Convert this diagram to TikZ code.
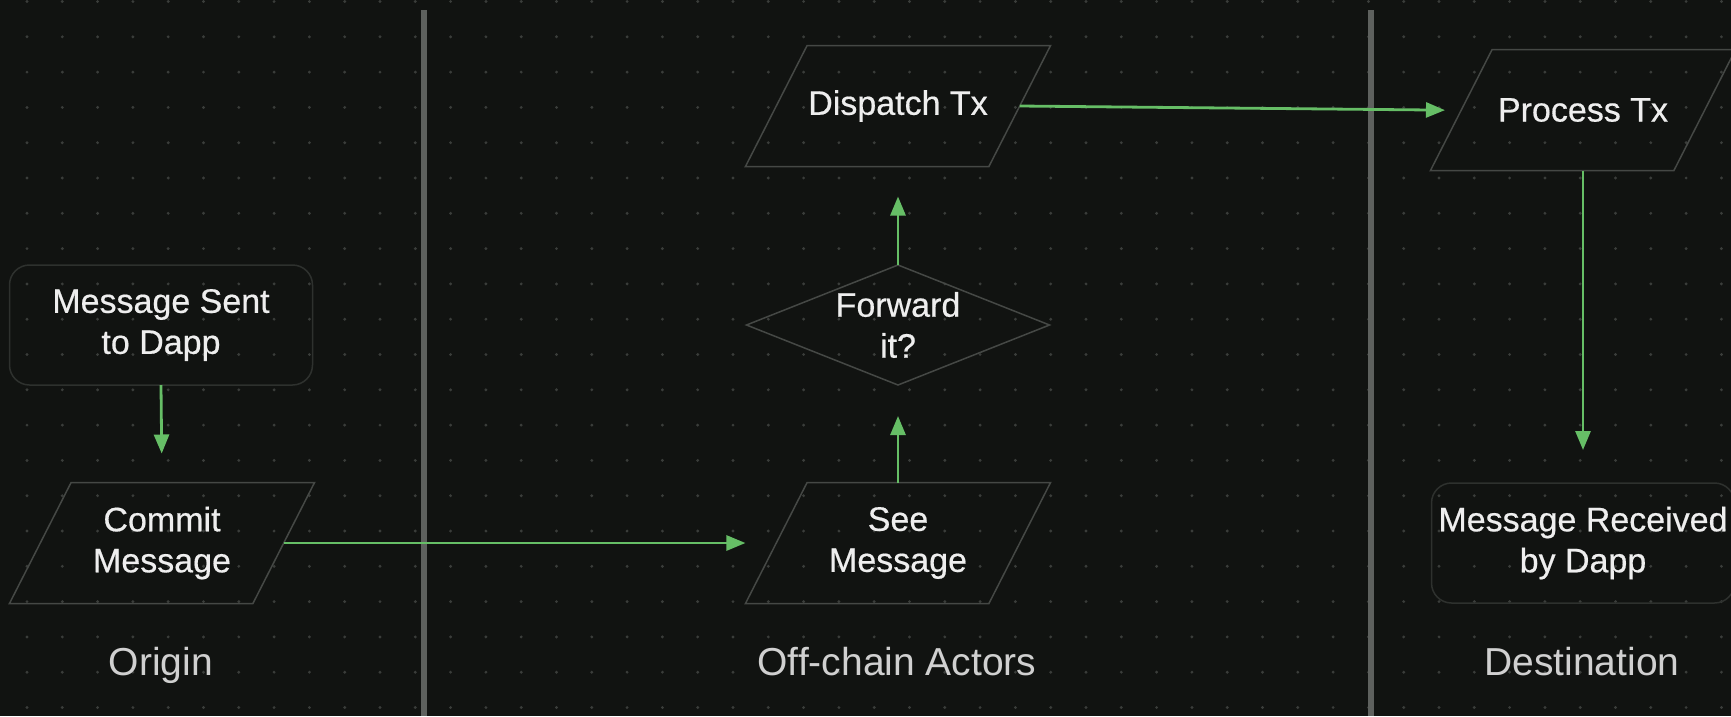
\documentclass[tikz,border=0pt]{standalone}
\usepackage{fontspec}
\setmainfont{Liberation Sans}
\newfontfamily\boxfam{Liberation Sans}[FakeBold=0.5]
\usetikzlibrary{shapes.geometric,arrows.meta}
\definecolor{bgc}{HTML}{111311}
\definecolor{dotc}{HTML}{3A3D3A}
\definecolor{lanec}{HTML}{5E615E}
\definecolor{shapec}{HTML}{454845}
\definecolor{boxc}{HTML}{2E312E}
\definecolor{txtc}{HTML}{EEEEEE}
\definecolor{labc}{HTML}{D0D0D0}
\definecolor{flowc}{HTML}{66BE66}
\newcommand{\nodefont}{\boxfam\fontsize{34}{41}\selectfont}
\newcommand{\lanefont}{\fontsize{39}{45}\selectfont}
\tikzset{
  parabox/.style={trapezium, trapezium left angle=63, trapezium right angle=117,
    trapezium stretches=false, inner sep=0pt, outer sep=0pt,
    text width=181.8pt, text height=60.5pt, text depth=60.5pt,
    draw=shapec, line width=1.5pt},
  roundbox/.style={rectangle, rounded corners=20pt, minimum width=303pt, minimum height=120pt,
    draw=boxc, line width=1.5pt, inner sep=0pt, outer sep=0pt},
  decision/.style={diamond, minimum width=303pt, minimum height=120pt,
    draw=shapec, line width=1.5pt, inner sep=0pt, outer sep=0pt},
  txtnode/.style={text=txtc, font=\nodefont, align=center, inner sep=0pt},
  lanelabel/.style={text=labc, font=\lanefont, anchor=base, inner sep=0pt},
  lane/.style={draw=lanec, line width=6pt},
  flow/.style={draw=flowc, line width=2.8pt, -{Triangle[length=19pt,width=15pt]}},
}
\begin{document}
\begin{tikzpicture}[x=1pt,y=-1pt]
\useasboundingbox (0,0) rectangle (1731,716);
\clip (0,0) rectangle (1731,716);
\fill[bgc] (0,0) rectangle (1731,716);
% dot grid
\foreach \i in {0,...,48}{
  \foreach \j in {0,...,20}{
    \fill[dotc] (27+35.3*\i, 1.5+35.3*\j) circle (1.6pt);
  }
}
% lane separators
\coordinate (l1t) at (424,10);
\coordinate (l1b) at (424,716);
\coordinate (l2t) at (1371,10);
\coordinate (l2b) at (1371,716);
\draw[lane] (l1t) -- (l1b);
\draw[lane] (l2t) -- (l2b);
% shapes
\node[roundbox] (sent) at (161,325) {};
\node[parabox] (commit) at (162,543) {};
\node[parabox] (see) at (898,543) {};
\node[decision] (fwd) at (898,325) {};
\node[parabox] (dispatch) at (898,106) {};
\node[parabox] (process) at (1583,110) {};
\node[roundbox] (recv) at (1583,543) {};
% texts
\node[txtnode] (senttxt) at (sent.center) {Message Sent\\to Dapp};
\node[txtnode] (committxt) at (commit.center) {Commit\\Message};
\node[txtnode] (seetxt) at (see.center) {See\\Message};
\node[txtnode] (fwdtxt) at (fwd.center) {Forward\\it?};
\node[txtnode] (dispatchtxt) at (dispatch.center) {Dispatch Tx};
\node[txtnode] (processtxt) at (process.center) {Process Tx};
\node[txtnode] (recvtxt) at (recv.center) {Message Received\\by Dapp};
% lane labels
\node[lanelabel] (origin) at (161,675) {Origin};
\node[lanelabel] (offchain) at (897,675) {Off-chain Actors};
\node[lanelabel] (dest) at (1582,675) {Destination};
% connectors
\draw[flow, shorten >=29pt] (sent.south) -- (commit.center |- commit.top left corner);
\draw[flow] (commit.east) -- (see.bottom left corner |- see.center);
\draw[flow, shorten >=31pt] (see.center |- see.top left corner) -- (fwd.south);
\draw[flow, shorten >=30pt] (fwd.north) -- (dispatch.center |- dispatch.bottom left corner);
\draw[flow, shorten >=-14.5pt] (dispatch.east) -- (process.bottom left corner |- process.center);
\draw[flow, shorten >=33pt] (process.center |- process.bottom left corner) -- (recv.north);
\end{tikzpicture}
\end{document}
